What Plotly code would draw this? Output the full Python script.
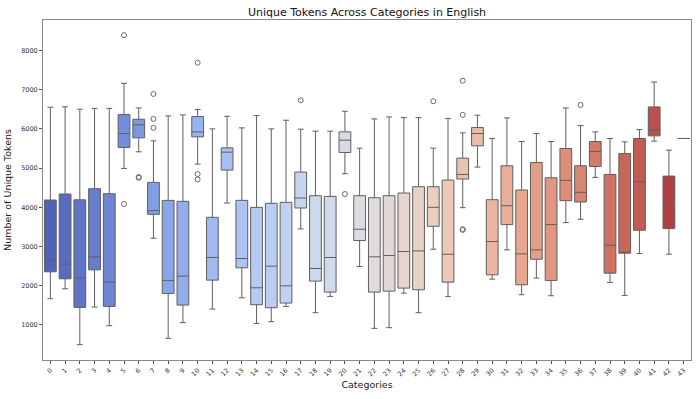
import colorsys
import numpy as np
import plotly.graph_objects as go

# ---------------- data ----------------
categories = [str(i) for i in range(44)]

lower_whisker = [1668, 1922, 498, 1457, 981, 4990, 5414, 3210, 659, 1058,
                 5100, 1405, 4108, 1693, 1040, 1083, 1473, 3447, 1312, 1727,
                 4854, 2490, 913, 930, 1812, 1312, 2930, 1727, 3990, 5024,
                 2168, 2913, 1770, 2193, 1744, 3608, 3693, 4761, 2083, 1753,
                 2820, 5685, 2803, 5753]
q1_values = [2354, 2176, 1447, 2405, 1472, 5524, 5769, 3820, 1803, 1507,
             5795, 2142, 4947, 2456, 1515, 1439, 1558, 3981, 2117, 1837,
             5397, 3151, 1837, 1862, 1939, 1897, 3515, 2091, 4719, 5566,
             2278, 3558, 2024, 2676, 2134, 4168, 4134, 5041, 2320, 2829,
             3414, 5820, 3456, 5753]
median_values = [2642, 2550, 2194, 2736, 2092, 5880, 6100, 3914, 2134, 2244,
                 5922, 2719, 5405, 2693, 1947, 2498, 1998, 4236, 2439, 2719,
                 5710, 3439, 2736, 2769, 2871, 2888, 3998, 2803, 4837, 5880,
                 3125, 4041, 2812, 2914, 3558, 4685, 4380, 5422, 3032, 2854,
                 4651, 5964, 4125, 5753]
q3_values = [4185, 4338, 4190, 4473, 4346, 6362, 6244, 4634, 4176, 4151,
             6312, 3744, 5515, 4176, 3998, 4100, 4125, 4897, 4295, 4278,
             5922, 4295, 4244, 4295, 4363, 4524, 4524, 4693, 5253, 6032,
             4193, 5058, 4439, 5142, 4753, 5498, 5058, 5676, 4837, 5371,
             5753, 6558, 4795, 5753]
upper_whisker = [6550, 6560, 6500, 6520, 6520, 7159, 6532, 5693, 6329, 6354,
                 6490, 5998, 6320, 6024, 6337, 5998, 6219, 5990, 5939, 5939,
                 6447, 5507, 6253, 6303, 6286, 6286, 5507, 6261, 5897, 6346,
                 5753, 6278, 5676, 5880, 5676, 6532, 6083, 5922, 5753, 5668,
                 5981, 7193, 5456, 5753]

outlier_categories = ["5", "5", "6", "6", "7", "7", "7", "10", "10", "10",
                      "17", "20", "26", "28", "28", "28", "28", "36"]
outlier_values = [8388, 4083, 4753, 4770, 6888, 6253, 6024, 7685, 4846, 4710,
                  6727, 4337, 6702, 7227, 6354, 3422, 3440, 6608]

y_ticks = [1000, 2000, 3000, 4000, 5000, 6000, 7000, 8000]

# ---------------- coolwarm palette (seaborn style, desaturated) ----------------
_cw_pos = np.linspace(0, 1, 17)
_cw_r = [0.2298, 0.3039, 0.3830, 0.4667, 0.5530, 0.6392, 0.7222, 0.7987, 0.8654,
         0.9241, 0.9589, 0.9700, 0.9580, 0.9239, 0.8692, 0.7956, 0.7057]
_cw_g = [0.2987, 0.4065, 0.5094, 0.6046, 0.6889, 0.7596, 0.8140, 0.8498, 0.8654,
         0.8274, 0.7698, 0.6943, 0.6028, 0.4973, 0.3783, 0.2413, 0.0156]
_cw_b = [0.7537, 0.8450, 0.9174, 0.9682, 0.9954, 0.9982, 0.9766, 0.9317, 0.8654,
         0.7745, 0.6780, 0.5794, 0.4818, 0.3880, 0.3003, 0.2205, 0.1502]


def palette(n, sat=0.75):
    out = []
    for t in np.linspace(0, 1, n + 2)[1:-1]:
        r = np.interp(t, _cw_pos, _cw_r)
        g = np.interp(t, _cw_pos, _cw_g)
        b = np.interp(t, _cw_pos, _cw_b)
        h, l, s = colorsys.rgb_to_hls(r, g, b)
        r, g, b = colorsys.hls_to_rgb(h, l, s * sat)
        out.append("rgb(%d,%d,%d)" % (round(r * 255), round(g * 255), round(b * 255)))
    return out


colors = palette(len(categories))
LINE = "#5f5f5f"

fig = go.Figure()
for i, cat in enumerate(categories):
    fig.add_trace(go.Box(
        x=[cat],
        q1=[q1_values[i]], median=[median_values[i]], q3=[q3_values[i]],
        lowerfence=[lower_whisker[i]], upperfence=[upper_whisker[i]],
        fillcolor=colors[i],
        line=dict(color=LINE, width=1),
        width=0.8,
        whiskerwidth=0.5,
        boxpoints=False,
        showlegend=False,
        hoverinfo="skip",
    ))

fig.add_trace(go.Scatter(
    x=outlier_categories, y=outlier_values, mode="markers",
    marker=dict(symbol="circle-open", size=5, color="#6a6a6a", line=dict(width=1)),
    showlegend=False, hoverinfo="skip",
))

FONT = "DejaVu Sans, Verdana, sans-serif"
fig.update_layout(
    width=700, height=399,
    margin=dict(l=42, r=8, t=20, b=39),
    paper_bgcolor="white", plot_bgcolor="white",
    boxmode="overlay",
    font=dict(family=FONT, color="#222"),
    title=dict(text="Unique Tokens Across Categories in English",
               x=0.5, xref="paper", xanchor="center",
               y=1 - 12 / 399, yref="container", yanchor="middle",
               font=dict(size=11, color="#111")),
    xaxis=dict(
        type="category", categoryorder="array", categoryarray=categories,
        range=[-0.5, 43.5],
        tickmode="array", tickvals=categories, ticktext=categories,
        tickangle=-45, tickfont=dict(size=6.5, color="#333"),
        ticks="outside", ticklen=3, tickcolor="#555",
        showline=True, linecolor="#888", linewidth=1, mirror=True,
        showgrid=False, zeroline=False,
        title=dict(text="Categories", font=dict(size=9.5, color="#222"), standoff=4),
    ),
    yaxis=dict(
        range=[106, 8774],
        tickmode="array", tickvals=y_ticks,
        tickfont=dict(size=6.5, color="#333"),
        ticks="outside", ticklen=3, tickcolor="#555",
        showline=True, linecolor="#888", linewidth=1, mirror=True,
        showgrid=False, zeroline=False,
        title=dict(text="Number of Unique Tokens", font=dict(size=9.5, color="#222"), standoff=7),
    ),
)

fig.write_html("out.html", config={"displayModeBar": False},
               post_script="document.body.style.margin='0';")
